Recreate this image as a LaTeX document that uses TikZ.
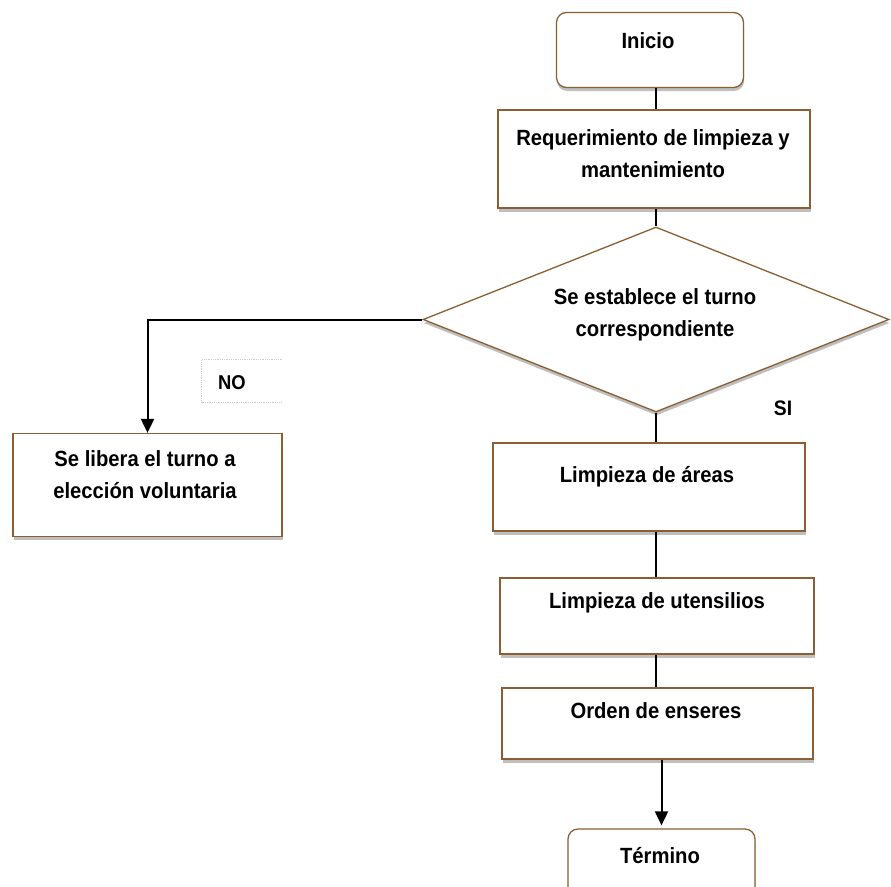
\documentclass[tikz,border=0pt]{standalone}
\usepackage{fontspec}
\setmainfont{Liberation Sans}[FakeStretch=0.92]
\usetikzlibrary{shapes.geometric,shadows,arrows.meta}
\definecolor{brd}{RGB}{139,94,52}
\definecolor{nobrd}{RGB}{205,205,205}
\begin{document}
\begin{tikzpicture}[x=1pt,y=-1pt,
  shade box/.style={draw=brd, line width=1.3pt, fill=white, inner sep=0pt,
    drop shadow={shadow xshift=0.5pt, shadow yshift=-3.5pt, fill=black!55, opacity=0.45}},
  procbox/.style={shade box, rectangle},
  termbox/.style={shade box, rectangle, rounded corners=10pt},
  decbox/.style={shade box, diamond},
  lbl/.style={font=\fontsize{22}{32}\selectfont\bfseries, anchor=base, align=center, inner sep=0pt},
  flow/.style={line width=2pt, black},
  arr/.style={flow, -{Triangle[length=14pt,width=13pt]}}
]
\clip (0,0) rectangle (891,886);
\fill[white] (0,0) rectangle (891,886);

% shapes
\node[termbox, minimum width=187pt, minimum height=75pt] (inicio) at (650,50) {};
\node[procbox, minimum width=312pt, minimum height=98pt] (req) at (654,159) {};
\node[decbox, minimum width=466pt, minimum height=185pt] (dec) at (656,319.5) {};
\node[procbox, minimum width=269pt, minimum height=103pt] (libera) at (147.5,485) {};
\node[procbox, minimum width=312pt, minimum height=88pt] (areas) at (649,487) {};
\node[procbox, minimum width=314pt, minimum height=76pt] (utens) at (657,616) {};
\node[procbox, minimum width=311pt, minimum height=71pt] (orden) at (657.5,723.5) {};
\node[termbox, minimum width=187pt, minimum height=72pt] (term) at (661.5,865) {};

% texts (base anchor sits on the last line's baseline)
\node[lbl] (tinicio) at (648,48) {Inicio};
\node[lbl] (treq) at (653,177) {Requerimiento de limpieza y\\mantenimiento};
\node[lbl] (tdec) at (655,336) {Se establece el turno\\correspondiente};
\node[lbl] (tlibera) at (145,498) {Se libera el turno a\\elección voluntaria};
\node[lbl] (tareas) at (647,482) {Limpieza de áreas};
\node[lbl] (tutens) at (657,608) {Limpieza de utensilios};
\node[lbl] (torden) at (656,718) {Orden de enseres};
\node[lbl] (tterm) at (660,863) {Término};

% answer labels
\node[minimum width=80pt, minimum height=42pt, inner sep=0pt] (nobox) at (242,381) {};
\draw[nobrd, densely dotted, line width=0.8pt]
  (nobox.north east) -- (nobox.north west) -- (nobox.south west) -- (nobox.south east);
\node[lbl, font=\fontsize{20}{22}\selectfont\bfseries] (no) at (232,389) {NO};
\node[lbl, font=\fontsize{21}{22}\selectfont\bfseries] (si) at (783,415) {SI};

% connectors
\draw[flow] (inicio.south -| dec.north) -- (req.north -| dec.north);
\draw[flow] (req.south -| dec.north) -- (dec.north);
\draw[arr] (dec.west) -| (libera.north);
\draw[flow] (dec.south) -- (dec.south |- areas.north);
\draw[flow] (areas.south -| dec.south) -- (utens.north -| dec.south);
\draw[flow] (utens.south -| dec.south) -- (orden.north -| dec.south);
\draw[arr, shorten >=3pt] (orden.south -| term.north) -- (term.north);
\end{tikzpicture}
\end{document}
